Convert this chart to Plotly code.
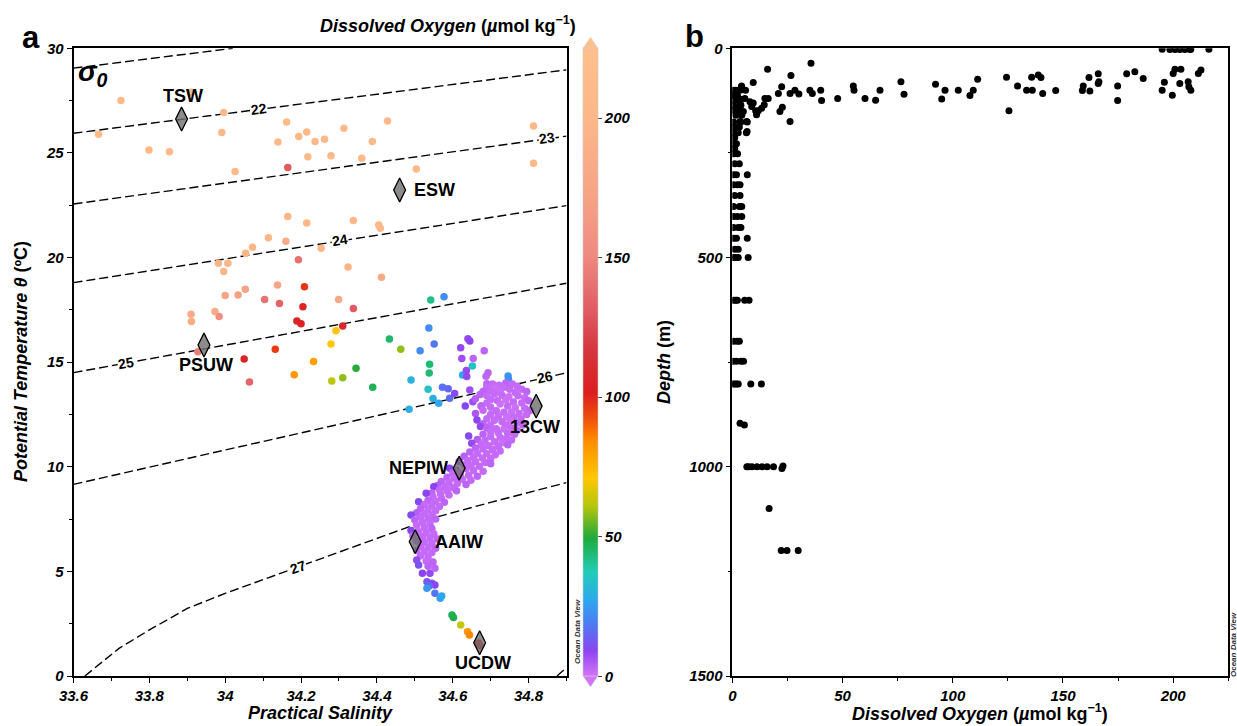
import plotly.graph_objects as go

W, H = 1237, 726
FONT = "Liberation Sans, Arial, sans-serif"

# ---------------- Panel a : T-S points (salinity, potential temperature, oxygen) ----------------
surface_pts = [
    (33.666, 25.89, 205), (33.725, 27.50, 208), (33.799, 25.14, 205), (33.853, 25.06, 205),
    (33.910, 27.90, 210), (33.996, 26.93, 207), (33.991, 25.97, 206), (34.026, 24.11, 205),
    (34.139, 25.52, 205), (34.162, 26.48, 208), (34.194, 25.78, 206), (34.215, 26.00, 207),
    (34.218, 24.82, 205), (34.237, 25.54, 205), (34.165, 24.30, 130), (34.262, 25.65, 206),
    (34.313, 26.18, 208), (34.428, 26.53, 210), (34.388, 25.54, 206), (34.360, 24.75, 205),
    (34.279, 24.87, 205), (34.504, 24.23, 205), (34.813, 26.29, 207), (34.813, 24.51, 205),
]
subsurface_pts = [
    (34.165, 21.96, 200), (34.215, 21.65, 200), (34.114, 20.95, 198), (34.160, 20.78, 185),
    (34.072, 20.49, 198), (34.054, 20.20, 198), (33.982, 19.73, 195), (34.007, 19.73, 198),
    (33.996, 19.33, 198), (34.193, 19.89, 140), (34.338, 21.77, 200), (34.405, 21.56, 200),
    (34.409, 21.40, 200), (34.303, 20.89, 105), (34.253, 20.44, 198), (34.324, 19.55, 195),
    (34.412, 19.06, 180),
]
thermocline_pts = [
    (34.000, 18.18, 175), (34.034, 18.21, 170), (34.053, 18.48, 172), (34.104, 18.00, 140),
    (34.138, 18.69, 175), (34.143, 17.80, 135), (34.209, 18.60, 97), (34.205, 17.65, 105),
    (34.189, 16.97, 106), (34.200, 16.83, 102), (33.910, 17.29, 185), (33.911, 16.94, 185),
    (33.973, 17.42, 185), (33.984, 17.18, 155), (34.299, 17.99, 180), (34.338, 17.57, 130),
    (34.310, 16.73, 108), (34.292, 16.50, 72), (34.279, 15.87, 70), (34.233, 15.03, 80),
    (34.132, 15.62, 96), (34.050, 15.15, 106), (33.928, 15.50, 145), (34.064, 14.05, 135),
    (34.182, 14.40, 82), (34.281, 14.10, 62), (34.310, 14.26, 58), (34.345, 14.71, 50),
    (34.389, 13.80, 47), (34.433, 16.11, 45), (34.463, 15.62, 58), (34.542, 17.97, 42),
    (34.577, 18.13, 22), (34.537, 16.63, 22), (34.551, 15.87, 18), (34.514, 15.54, 22),
    (34.539, 14.90, 44), (34.538, 14.48, 44), (34.490, 14.15, 30), (34.535, 13.70, 34),
    (34.573, 13.80, 17), (34.588, 13.73, 15), (34.548, 13.26, 29), (34.563, 13.03, 27),
    (34.592, 13.27, 16), (34.485, 12.75, 29), (34.605, 13.50, 10),
    (34.640, 16.12, 8), (34.645, 16.01, 9), (34.621, 15.69, 8), (34.683, 15.55, 3),
    (34.624, 15.18, 7), (34.654, 15.18, 3), (34.652, 14.82, 34), (34.626, 14.39, 27),
    (34.636, 14.60, 8), (34.637, 14.31, 8), (34.690, 13.97, 3), (34.688, 13.54, 8),
    (34.746, 14.34, 24), (34.747, 14.18, 22), (34.645, 13.67, 7), (34.653, 13.11, 7),
    (34.633, 12.90, 10), (34.675, 12.90, 3), (34.693, 14.49, 3), (34.688, 14.33, 3),
]
central_pts = [
    (34.705, 13.95, 2), (34.722, 13.90, 2), (34.740, 14.00, 3), (34.757, 13.95, 2), (34.770, 13.85, 2),
    (34.690, 13.80, 2), (34.713, 13.75, 1), (34.735, 13.80, 2), (34.750, 13.70, 2), (34.782, 13.70, 2),
    (34.795, 13.60, 3), (34.680, 13.60, 3), (34.700, 13.62, 2), (34.725, 13.60, 1), (34.765, 13.55, 2),
    (34.672, 13.45, 3), (34.690, 13.40, 2), (34.710, 13.48, 2), (34.730, 13.42, 2), (34.748, 13.35, 1),
    (34.772, 13.40, 2), (34.790, 13.30, 2), (34.800, 13.15, 3), (34.660, 13.25, 4), (34.700, 13.20, 2),
    (34.718, 13.15, 2), (34.740, 13.20, 1), (34.760, 13.10, 2), (34.782, 13.05, 2), (34.690, 13.05, 2),
    (34.725, 13.00, 1), (34.675, 12.90, 3), (34.700, 12.85, 2), (34.745, 12.90, 2), (34.765, 12.82, 1),
    (34.790, 12.80, 2), (34.805, 12.70, 3), (34.680, 12.70, 2), (34.715, 12.68, 2), (34.735, 12.60, 2),
    (34.755, 12.62, 1), (34.775, 12.55, 2), (34.795, 12.50, 2), (34.700, 12.50, 2), (34.660, 12.55, 5),
    (34.720, 12.40, 2), (34.742, 12.38, 1), (34.760, 12.35, 2), (34.780, 12.30, 2), (34.690, 12.30, 2),
    (34.710, 12.22, 2), (34.730, 12.15, 2), (34.752, 12.18, 1), (34.770, 12.10, 2), (34.664, 12.24, 9),
    (34.680, 12.05, 3), (34.700, 12.00, 2), (34.740, 11.98, 2), (34.785, 12.00, 3),
    (34.673, 11.92, 8), (34.690, 11.85, 3), (34.715, 11.82, 2), (34.735, 11.80, 1), (34.755, 11.85, 2),
    (34.770, 11.75, 2), (34.700, 11.68, 2), (34.720, 11.62, 2), (34.745, 11.60, 2), (34.763, 11.55, 2),
    (34.680, 11.55, 3), (34.642, 11.47, 10), (34.700, 11.45, 2), (34.725, 11.40, 2), (34.742, 11.35, 2),
    (34.755, 11.28, 2), (34.665, 11.30, 4), (34.685, 11.25, 2), (34.710, 11.20, 2), (34.730, 11.15, 1),
    (34.650, 11.12, 8), (34.675, 11.05, 2), (34.695, 11.00, 2), (34.720, 10.98, 2), (34.745, 11.05, 3),
]
intermediate_pts = [
    (34.660, 10.90, 3), (34.680, 10.85, 2), (34.705, 10.82, 2), (34.725, 10.75, 2), (34.645, 10.70, 3),
    (34.665, 10.65, 2), (34.690, 10.62, 2), (34.712, 10.58, 2), (34.630, 10.50, 4), (34.655, 10.45, 2),
    (34.678, 10.42, 2), (34.700, 10.40, 2), (34.617, 10.25, 9), (34.640, 10.30, 2), (34.660, 10.25, 2),
    (34.685, 10.20, 2), (34.700, 10.15, 3), (34.630, 10.10, 2), (34.648, 10.05, 2), (34.670, 10.02, 2),
    (34.592, 9.93, 9), (34.610, 9.85, 3), (34.635, 9.90, 2), (34.655, 9.82, 2), (34.680, 9.78, 2),
    (34.600, 9.70, 2), (34.620, 9.65, 2), (34.642, 9.60, 2), (34.665, 9.55, 3), (34.585, 9.50, 3),
    (34.605, 9.45, 2), (34.625, 9.40, 2), (34.648, 9.35, 2), (34.570, 9.30, 3), (34.590, 9.25, 2),
    (34.612, 9.20, 2), (34.635, 9.15, 3), (34.560, 9.10, 4), (34.580, 9.05, 2), (34.600, 9.00, 2),
    (34.550, 9.05, 9), (34.565, 8.90, 2), (34.585, 8.85, 2), (34.610, 8.85, 3), (34.545, 8.75, 3),
    (34.530, 8.73, 9), (34.568, 8.70, 2), (34.590, 8.65, 2), (34.548, 8.55, 2), (34.570, 8.50, 2),
    (34.535, 8.40, 3), (34.510, 8.33, 10), (34.555, 8.35, 2), (34.578, 8.30, 3), (34.525, 8.20, 2),
    (34.545, 8.15, 2), (34.565, 8.10, 2), (34.515, 8.00, 3), (34.535, 7.95, 2), (34.555, 7.90, 2),
    (34.505, 7.80, 4), (34.525, 7.75, 2), (34.545, 7.70, 2), (34.490, 7.70, 10), (34.515, 7.60, 2),
    (34.535, 7.55, 2), (34.555, 7.50, 3), (34.500, 7.45, 3), (34.520, 7.35, 2), (34.540, 7.30, 2),
    (34.505, 7.20, 2), (34.525, 7.10, 2), (34.545, 7.05, 3), (34.490, 6.95, 9), (34.510, 6.90, 2),
    (34.530, 6.85, 2), (34.550, 6.80, 2), (34.495, 6.70, 3), (34.520, 6.65, 2), (34.540, 6.60, 2),
    (34.560, 6.55, 3), (34.505, 6.45, 2), (34.525, 6.40, 2), (34.545, 6.35, 2), (34.515, 6.20, 2),
    (34.535, 6.15, 2), (34.555, 6.10, 3), (34.505, 6.00, 3), (34.525, 5.95, 2), (34.545, 5.90, 2),
    (34.515, 5.75, 2), (34.535, 5.70, 2), (34.505, 5.55, 8), (34.530, 5.50, 2), (34.548, 5.45, 3),
    (34.510, 5.30, 12), (34.535, 5.25, 3),
]
deep_pts = [
    (34.520, 4.91, 9), (34.540, 4.91, 8), (34.553, 5.15, 3), (34.532, 4.51, 12), (34.545, 4.43, 10),
    (34.553, 4.35, 9), (34.538, 4.30, 16), (34.532, 4.19, 24), (34.553, 3.95, 18), (34.567, 3.71, 26),
    (34.571, 3.82, 27), (34.598, 2.92, 47), (34.602, 2.80, 48), (34.621, 2.44, 63), (34.639, 2.12, 82),
    (34.644, 1.96, 85), (34.668, 1.58, 104), (34.672, 1.45, 106),
]

# water masses
wm_names = ["TSW", "ESW", "PSUW", "13CW", "NEPIW", "AAIW", "UCDW"]
wm_sal = [33.885, 34.460, 33.944, 34.820, 34.617, 34.501, 34.671]
wm_temp = [26.62, 23.23, 15.82, 12.90, 9.93, 6.42, 1.59]
wm_label_sal = [33.890, 34.553, 33.950, 34.818, 34.510, 34.617, 34.680]
wm_label_temp = [27.72, 23.23, 14.87, 11.92, 9.93, 6.42, 0.61]

# isopycnals (sigma-0)
iso_levels = ["21", "22", "23", "24", "25", "26", "27", "28"]
iso_sal = [
    [33.60, 34.02],
    [33.60, 34.90],
    [33.60, 34.90],
    [33.60, 34.90],
    [33.60, 34.90],
    [33.60, 34.90],
    [33.63, 33.72, 33.80, 33.90, 34.00, 34.10, 34.20, 34.30, 34.41, 34.55, 34.70, 34.80, 34.90],
    [34.875, 34.90],
]
iso_temp = [
    [29.05, 30.0],
    [25.94, 28.97],
    [22.56, 25.80],
    [18.80, 22.48],
    [14.50, 18.77],
    [9.16, 14.49],
    [0.0, 1.32, 2.20, 3.23, 3.95, 4.60, 5.25, 5.92, 6.65, 7.56, 8.30, 8.77, 9.24],
    [0.0, 0.40],
]
iso_label_text = ["22", "23", "24", "25", "26", "27"]
iso_label_sal = [34.090, 34.848, 34.303, 33.738, 34.844, 34.193]
iso_label_temp = [27.08, 25.70, 20.84, 14.96, 14.28, 5.23]
iso_label_angle = [-7, -8, -9, -10, -12, -20]

# ---------------- Panel b : oxygen profile ----------------
prof_oxy = [
    195, 198.5, 200.8, 203, 205.3, 207.6, 208, 216.2,
    16.0, 35.7, 9.5, 26.6, 4.2, 6.0, 16.3, 20.9, 22.4, 26.2, 28.4, 30.2, 35.2, 36.3, 40.1, 40.5,
    47.8, 54.9, 55.2, 60.2, 65.0, 67.0, 76.5, 77.9, 92.2, 96.5, 95.0, 102.5, 107.8, 109.3, 111.3,
    124.4, 125.5, 129.4, 133.5, 136.1, 135.8, 138.8, 140.0, 140.8, 146.7, 159.2, 158.8, 162.2,
    161.8, 166.0, 166.0, 166.3, 174.8, 174.8, 178.9, 182.6, 186.4, 195.0, 196.0, 199.6, 200.0,
    200.8, 203.5, 203.0, 206.8, 208.0, 207.1, 211.4, 212.6,
    3.9, 5.7, 8.0, 9.5, 8.8, 10.6, 11.8, 13.3, 14.5, 14.8, 11.0, 6.5, 3.5, 6.7, 26.2, 21.6, 22.7,
    2.7, 4.2, 1.2, 2.7, 3.5, 5.0,
    0.3, 1.6, 3.5, 0.6, 2.3, 1.1, 3.5, 0.6, 3.9, 0.6, 2.7, 1.6, 4.3, 0.6, 3.9, 6.8, 1.1, 3.2,
    0.6, 2.7, 6.4, 1.1, 0.6, 1.9, 1.1, 0.6, 2.4, 1.1, 3.2, 0.6, 1.9, 6.8, 0.6, 2.3, 3.5,
    1.1, 3.5, 0.6, 3.2, 4.3, 0.6, 2.3, 4.3, 0.6, 2.7, 3.9, 0.6, 1.9, 6.8, 1.1, 2.7,
    0.6, 1.6, 2.7, 7.2,
    0.6, 1.6, 2.3, 5.6, 7.6, 0.6, 2.2, 3.2, 0.3, 1.9, 3.9, 5.1, 0.3, 1.1, 1.9, 2.7, 8.4, 13.2,
    3.5, 5.5, 6.6, 7.4, 8.9, 11.2, 13.5, 15.8, 18.7, 22.5, 23.0, 16.7, 22.2, 24.8, 29.9,
]
prof_depth = [
    2, 3, 3, 3, 3, 3, 2, 2,
    50, 36, 82, 65, 92, 100, 120, 108, 92, 108, 100, 109, 100, 108, 100, 125,
    120, 90, 100, 120, 124, 100, 80, 110, 86, 100, 121, 100, 113, 100, 74,
    69, 149, 90, 100, 100, 69, 64, 70, 108, 101, 90, 101, 102,
    70, 61, 84, 80, 90, 125, 61, 56, 72, 100, 81, 112, 60,
    50, 50, 84, 80, 100, 92, 60, 52,
    122, 120, 128, 131, 139, 149, 149, 143, 135, 120, 159, 175, 175, 199, 175, 151, 141,
    100, 90, 112, 143, 131, 151,
    100, 100, 100, 112, 112, 124, 124, 136, 136, 148, 148, 160, 160, 176, 176, 176, 188, 188,
    202, 202, 202, 214, 228, 228, 240, 252, 252, 276, 276, 302, 302, 302, 326, 326, 326,
    352, 352, 378, 378, 378, 402, 402, 402, 428, 428, 428, 454, 454, 454, 480, 480,
    500, 500, 500, 500,
    602, 602, 602, 602, 602, 700, 700, 700, 748, 748, 748, 748, 802, 802, 802, 802, 802, 802,
    896, 900, 1000, 1000, 1000, 1000, 1000, 1000, 1000, 1004, 998, 1100, 1200, 1200, 1200,
]

# colour scale (Ocean Data View style) and colourbar range
cb_ticks = [0, 50, 100, 150, 200]
cb_min, cb_max = 0, 225
colorscale = [
    [0.000, "#d474fa"], [0.040, "#8c44f0"], [0.085, "#4a7ef2"], [0.120, "#2fa6ee"],
    [0.165, "#20cdb8"], [0.220, "#1faa3c"], [0.270, "#b4c60c"], [0.315, "#ffc800"],
    [0.375, "#ff8c00"], [0.410, "#f0500a"], [0.450, "#dc1e1e"], [0.520, "#d4363e"],
    [0.580, "#e05a62"], [0.670, "#ef8a80"], [0.760, "#f6a286"], [0.880, "#fdb688"],
    [1.000, "#ffc08c"],
]

def px_x(p):
    return p / W

def px_y(p):
    return 1 - p / H

groups = [surface_pts, subsurface_pts, thermocline_pts, central_pts, intermediate_pts, deep_pts]
all_pts = [p for g in groups for p in g]
ts_sal = [p[0] for p in all_pts]
ts_temp = [p[1] for p in all_pts]
ts_oxy = [p[2] for p in all_pts]

fig = go.Figure()

# isopycnals
for lev, s, t in zip(iso_levels, iso_sal, iso_temp):
    fig.add_trace(go.Scatter(x=s, y=t, mode="lines", xaxis="x", yaxis="y",
                             line=dict(color="black", width=1.4, dash="9px,4px"),
                             hoverinfo="skip", showlegend=False))

# T-S points
fig.add_trace(go.Scatter(
    x=ts_sal, y=ts_temp, mode="markers", xaxis="x", yaxis="y", showlegend=False,
    marker=dict(size=7.5, color=ts_oxy, coloraxis="coloraxis", line=dict(width=0)),
))

# water-mass diamonds
fig.add_trace(go.Scatter(
    x=wm_sal, y=wm_temp, mode="markers", xaxis="x", yaxis="y", showlegend=False,
    marker=dict(symbol="diamond-tall", size=17, color="rgba(110,110,110,0.8)",
                line=dict(color="black", width=1.3)),
))

# oxygen profile
fig.add_trace(go.Scatter(
    x=prof_oxy, y=prof_depth, mode="markers", xaxis="x2", yaxis="y2", showlegend=False,
    marker=dict(size=7, color="black"),
))

tickfont = dict(family=FONT, size=15, color="black", weight="bold", style="italic")
common_axis = dict(showgrid=False, zeroline=False, showline=True, mirror=True,
                   linecolor="black", linewidth=1.6, ticks="outside", ticklen=5,
                   tickwidth=1, tickcolor="black", tickfont=tickfont, automargin=False)

ydom = [px_y(676), px_y(48.3)]
fig.update_layout(
    width=W, height=H, autosize=False,
    margin=dict(l=0, r=0, t=0, b=0, pad=0, autoexpand=False),
    paper_bgcolor="white", plot_bgcolor="white",
    font=dict(family=FONT, color="black"),
    xaxis=dict(domain=[px_x(73.5), px_x(566.5)], range=[33.6, 34.9], anchor="y",
               tickvals=[33.6, 33.8, 34.0, 34.2, 34.4, 34.6, 34.8],
               ticktext=["33.6", "33.8", "34", "34.2", "34.4", "34.6", "34.8"],
               minor=dict(tickvals=[33.7, 33.9, 34.1, 34.3, 34.5, 34.7, 34.9],
                          ticks="outside", ticklen=3, tickcolor="black"),
               **common_axis),
    yaxis=dict(domain=ydom, range=[0, 30], anchor="x", tickvals=[0, 5, 10, 15, 20, 25, 30],
               minor=dict(tickvals=[2.5, 7.5, 12.5, 17.5, 22.5, 27.5],
                          ticks="outside", ticklen=3, tickcolor="black"),
               **common_axis),
    xaxis2=dict(domain=[px_x(732.3), px_x(1228.3)], range=[0, 225], anchor="y2",
                tickvals=[0, 50, 100, 150, 200],
                minor=dict(tickvals=[25, 75, 125, 175, 225], ticks="outside", ticklen=3,
                           tickcolor="black"),
                **common_axis),
    yaxis2=dict(domain=ydom, range=[1500, 0], anchor="x2", tickvals=[0, 500, 1000, 1500],
                minor=dict(tickvals=[250, 750, 1250], ticks="outside", ticklen=3,
                           tickcolor="black"),
                **common_axis),
    coloraxis=dict(
        cmin=cb_min, cmax=cb_max, colorscale=colorscale,
        colorbar=dict(
            x=px_x(583), xanchor="left", y=px_y(48.3), yanchor="top",
            len=627.7, lenmode="pixels", thickness=15, thicknessmode="pixels",
            xpad=0, ypad=0, outlinewidth=0.6, outlinecolor="#c8c8c8",
            tickvals=cb_ticks, ticks="outside", ticklen=4, tickcolor="#444",
            tickfont=tickfont,
        ),
    ),
)

# colourbar extension triangles
fig.add_shape(type="path", xref="paper", yref="paper",
              path=f"M {px_x(583)},{px_y(48.3)} L {px_x(598)},{px_y(48.3)} L {px_x(590.5)},{px_y(37)} Z",
              fillcolor="#ffc08c", line=dict(color="#d8d8d8", width=0.6), layer="above")
fig.add_shape(type="path", xref="paper", yref="paper",
              path=f"M {px_x(583)},{px_y(676)} L {px_x(598)},{px_y(676)} L {px_x(590.5)},{px_y(687)} Z",
              fillcolor="#d474fa", line=dict(color="#d8d8d8", width=0.6), layer="above")

ann = []
# water-mass labels
for name, s, t in zip(wm_names, wm_label_sal, wm_label_temp):
    ann.append(dict(x=s, y=t, xref="x", yref="y", text=f"<b>{name}</b>", showarrow=False,
                    xanchor="center", yanchor="middle",
                    font=dict(family=FONT, size=18, color="black")))
# isopycnal labels
for txt, s, t, a in zip(iso_label_text, iso_label_sal, iso_label_temp, iso_label_angle):
    ann.append(dict(x=s, y=t, xref="x", yref="y", text=f"<b>{txt}</b>", showarrow=False,
                    xanchor="center", yanchor="middle",
                    textangle=a, bgcolor="white", borderpad=0,
                    font=dict(family=FONT, size=14, color="black")))
# sigma-0
ann.append(dict(x=33.652, y=28.8, xref="x", yref="y", showarrow=False,
                xanchor="center", yanchor="middle",
                text="<b><i>σ<sub>0</sub></i></b>", font=dict(family=FONT, size=28, color="black")))


def paper_text(x, y, text, font, angle=0, xanchor="center"):
    ann.append(dict(x=px_x(x), y=px_y(y), xref="paper", yref="paper", showarrow=False,
                    xanchor=xanchor, yanchor="middle", textangle=angle, text=text, font=font))


# panel letters
paper_text(31, 37, "<b>a</b>", dict(family=FONT, size=31, color="black"))
paper_text(694, 36, "<b>b</b>", dict(family=FONT, size=31, color="black"))
# axis titles
title_font = dict(family=FONT, size=18, color="black")
oxy_title = "<b><i>Dissolved Oxygen</i> (<i>µ</i>mol kg<sup>−1</sup>)</b>"
paper_text(320, 713, "<b><i>Practical Salinity</i></b>", title_font)
paper_text(980, 712, oxy_title, title_font)
paper_text(578, 24, oxy_title, title_font, xanchor="right")
paper_text(21, 362, "<b><i>Potential Temperature θ</i> (ºC)</b>", title_font, angle=-90)
paper_text(664, 362, "<b><i>Depth</i> (m)</b>", title_font, angle=-90)
# Ocean Data View marks
odv_font = dict(family=FONT, size=8, color="#333", style="italic")
paper_text(577, 632, "<b>Ocean Data View</b>", odv_font, angle=-90)
paper_text(1233, 645, "<b>Ocean Data View</b>", odv_font, angle=-90)

fig.update_layout(annotations=ann)
fig.write_html("out.html", config={"displayModeBar": False},
               post_script="document.body.style.margin='0px';")
